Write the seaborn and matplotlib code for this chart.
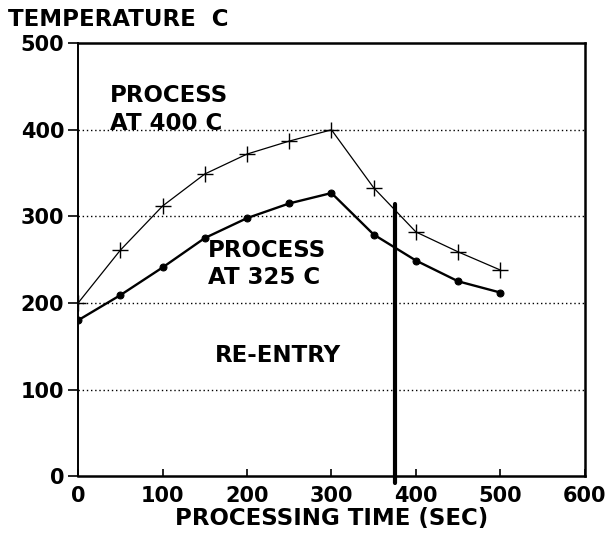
import numpy as np
import pandas as pd
import seaborn as sns
import matplotlib
matplotlib.use("Agg")
import matplotlib.pyplot as plt

# processing time (sec)
time_sec = [0, 50, 100, 150, 200, 250, 300, 350, 400, 450, 500]
# process at 400 C
temp_400 = [200, 261, 312, 349, 372, 387, 400, 333, 282, 259, 238]
# process at 325 C
temp_325 = [180, 209, 241, 275, 298, 315, 327, 279, 249, 225, 212]

reentry_time = 375
reentry_top = 314

x_ticks = [0, 100, 200, 300, 400, 500, 600]
y_ticks = [0, 100, 200, 300, 400, 500]

df = pd.DataFrame({"time": time_sec, "t400": temp_400, "t325": temp_325})

sns.set_style("ticks", {"text.color": "black", "axes.labelcolor": "black",
                        "xtick.color": "black", "ytick.color": "black",
                        "axes.edgecolor": "black"})
plt.rcParams["font.family"] = ["DejaVu Sans"]
plt.rcParams["font.weight"] = "bold"

fig = plt.figure(figsize=(6.15, 5.41), dpi=100)
ax = fig.add_axes([0.127, 0.12, 0.824, 0.80])

for y in [100, 200, 300, 400]:
    ax.axhline(y, color="black", lw=1.0, ls=(0, (1, 2)), zorder=1)

sns.lineplot(data=df, x="time", y="t400", ax=ax, color="black", lw=0.9,
             marker="+", markersize=12, markeredgewidth=1.0,
             markeredgecolor="black", zorder=3)
sns.lineplot(data=df, x="time", y="t325", ax=ax, color="black", lw=1.7,
             marker="o", markersize=5, markeredgecolor="black", zorder=3)

ax.plot([reentry_time, reentry_time], [-8, reentry_top], color="black",
        lw=3, clip_on=False, zorder=4)

ax.set_xlim(0, 600)
ax.set_ylim(0, 500)
ax.set_xticks(x_ticks)
ax.set_yticks(y_ticks)
ax.tick_params(axis="x", direction="in", length=5, width=1.2, labelsize=15, pad=7)
ax.tick_params(axis="y", direction="out", length=7, width=1.2, labelsize=15, pad=3)
for lab in ax.get_xticklabels() + ax.get_yticklabels():
    lab.set_fontweight("bold")

for s in ax.spines.values():
    s.set_linewidth(1.8)
ax.spines["left"].set_linewidth(1.4)

ax.set_xlabel("PROCESSING TIME (SEC)", fontsize=16.5, fontweight="bold", labelpad=1)
ax.set_ylabel("")
fig.text(0.013, 0.952, "TEMPERATURE  C", fontsize=16.5, fontweight="bold",
         ha="left", va="baseline")

ax.text(38, 432, "PROCESS", fontsize=16.5, fontweight="bold", ha="left", va="baseline")
ax.text(38, 400, "AT 400 C", fontsize=16.5, fontweight="bold", ha="left", va="baseline")
ax.text(154, 253, "PROCESS", fontsize=16.5, fontweight="bold", ha="left", va="baseline")
ax.text(154, 222, "AT 325 C", fontsize=16.5, fontweight="bold", ha="left", va="baseline")
ax.text(162, 132, "RE-ENTRY", fontsize=16.5, fontweight="bold", ha="left", va="baseline")

fig.savefig("out.png", dpi=100)
